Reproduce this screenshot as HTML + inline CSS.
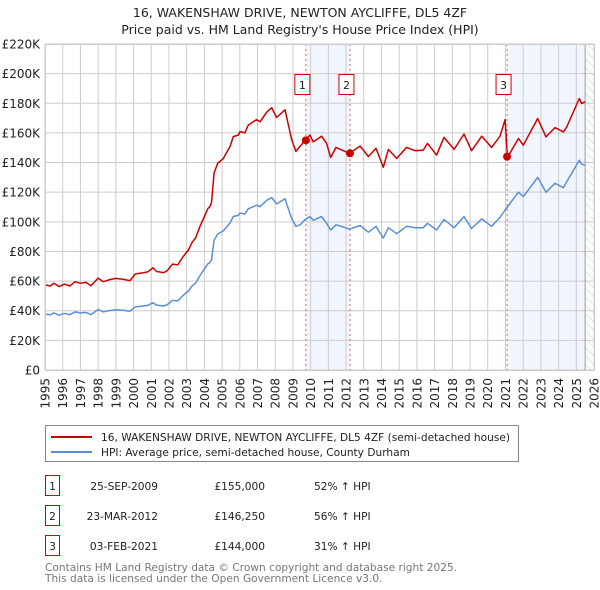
<!DOCTYPE html>
<html><head><meta charset="utf-8"><style>
body{margin:0;background:#fff;font-family:"Liberation Sans","DejaVu Sans",sans-serif;}
svg{display:block}
</style></head><body>
<svg id="chart" width="600" height="590" viewBox="0 0 600 590" font-family="DejaVu Sans, Liberation Sans, sans-serif">
<text x="300" y="17" text-anchor="middle" font-size="12.5" fill="#222">16, WAKENSHAW DRIVE, NEWTON AYCLIFFE, DL5 4ZF</text>
<text x="300" y="34" text-anchor="middle" font-size="12.5" fill="#222">Price paid vs. HM Land Registry's House Price Index (HPI)</text>
<g id="plot"></g>
<g>
<rect x="45.5" y="425.5" width="473" height="36" fill="#fff" stroke="#888"/>
<line x1="51" y1="437" x2="92" y2="437" stroke="#cc0000" stroke-width="2"/>
<text x="101" y="441" font-size="10.6" fill="#222">16, WAKENSHAW DRIVE, NEWTON AYCLIFFE, DL5 4ZF (semi-detached house)</text>
<line x1="51" y1="452" x2="92" y2="452" stroke="#5b8fd4" stroke-width="2"/>
<text x="101" y="456" font-size="10.6" fill="#222">HPI: Average price, semi-detached house, County Durham</text>
</g>
<g id="table" font-size="10.6" fill="#222"></g>
<text x="45" y="571" font-size="10.6" fill="#777">Contains HM Land Registry data © Crown copyright and database right 2025.</text>
<text x="45" y="582" font-size="10.6" fill="#777">This data is licensed under the Open Government Licence v3.0.</text>
</svg>
<script>
const yearTicks=[1995,1996,1997,1998,1999,2000,2001,2002,2003,2004,2005,2006,2007,2008,2009,2010,2011,2012,2013,2014,2015,2016,2017,2018,2019,2020,2021,2022,2023,2024,2025,2026];
const valueTicks=[0,20,40,60,80,100,120,140,160,180,200,220];
const valueTickLabels=["£0","£20K","£40K","£60K","£80K","£100K","£120K","£140K","£160K","£180K","£200K","£220K"];
const pointYears=[1995.0,1995.3,1995.5,1995.8,1996.1,1996.4,1996.7,1997.0,1997.3,1997.6,1998.0,1998.3,1998.6,1999.0,1999.4,1999.8,2000.1,2000.5,2000.8,2001.1,2001.3,2001.7,2001.9,2002.2,2002.5,2002.8,2003.1,2003.3,2003.5,2003.75,2004.0,2004.2,2004.3,2004.4,2004.55,2004.75,2005.07,2005.45,2005.63,2005.92,2006.01,2006.29,2006.48,2006.95,2007.14,2007.52,2007.8,2008.08,2008.55,2008.93,2009.17,2009.4,2009.68,2009.96,2010.15,2010.62,2010.9,2011.13,2011.43,2011.85,2012.19,2012.79,2013.26,2013.69,2014.1,2014.39,2014.86,2015.42,2015.89,2016.36,2016.6,2017.11,2017.53,2018.1,2018.66,2019.09,2019.66,2020.22,2020.69,2020.98,2021.11,2021.73,2022.01,2022.82,2023.29,2023.8,2024.27,2024.46,2025.17,2025.3,2025.49];
const propertyValues=[57.4,56.7,58.5,56.3,58,56.7,59.6,58.5,59.2,56.8,62,59.6,60.8,61.8,61.2,60.3,64.8,65.5,66.2,69,66.5,65.7,67,71.5,70.9,76.5,81,86,89,97,103.5,109,110,113,133,139.5,142.7,150.9,157.5,158.6,160.9,160,165.3,169,167.5,174,177,170.4,175.6,155.4,147.5,150.9,155,158.5,154,157.8,152.9,143.4,150.2,148,146.2,151.1,144,149.6,136.8,148.9,142.8,150.2,148,148.4,152.9,145,157,148.9,159.2,148,157.8,150.2,157.8,169,143.4,156.2,151.7,169.7,157.3,163.6,160.7,164,183.2,179.8,181];
const hpiValues=[37.8,37.3,38.5,37,38.2,37.3,39.2,38.5,38.9,37.4,40.8,39.2,40,40.7,40.3,39.7,42.6,43.1,43.6,45.4,43.8,43.2,44.1,47,46.6,50.3,53.3,56.6,58.6,63.8,68.1,71.7,72.4,74.3,87.5,91.8,93.9,99.3,103.6,104.3,105.9,105.3,108.8,111.2,110.2,114.5,116.4,112.1,115.5,102.2,97,98,101.5,103.5,101,103.5,99,94.5,98,96.5,95,97.5,93,97,89,96,92,97,96,96,99,94.5,101.5,96,103.5,95.5,102,97,103,108,110,120,117,130,120,126,123,127,141.5,139,138];
const saleLabels=["1","2","3"];
const saleYears=[2009.73,2012.22,2021.09];
const salePrices=[155,146.25,144];
const saleDates=["25-SEP-2009","23-MAR-2012","03-FEB-2021"];
const salePriceText=["£155,000","£146,250","£144,000"];
const saleHpiText=["52% ↑ HPI","56% ↑ HPI","31% ↑ HPI"];
const dataEndYear=2025.5;

const NS="http://www.w3.org/2000/svg";
const X0=45,X1=594,Y0=370,Y1=44;
const xs=y=>X0+(y-1995)*(X1-X0)/31;
const ys=v=>Y0-v*(Y0-Y1)/220;
const plot=document.getElementById('plot');
function mk(tag,attrs,parent){const e=document.createElementNS(NS,tag);for(const k in attrs)e.setAttribute(k,attrs[k]);(parent||plot).appendChild(e);return e;}

const s1=mk('rect',{x:xs(saleYears[0]),y:Y1,width:xs(saleYears[1])-xs(saleYears[0]),height:Y0-Y1,fill:'#eef3fc',opacity:0.8});


const s2=mk('rect',{x:xs(saleYears[2]),y:Y1,width:xs(dataEndYear)-xs(saleYears[2]),height:Y0-Y1,fill:'#eef3fc',opacity:0.8});


const defs=mk('defs',{});
const pat=mk('pattern',{id:'hatch',width:6,height:6,patternUnits:'userSpaceOnUse',patternTransform:'rotate(-45)'},defs);
mk('line',{x1:0,y1:0,x2:0,y2:6,stroke:'#ccc','stroke-width':1},pat);
const hz=mk('rect',{x:xs(dataEndYear),y:Y1,width:X1-xs(dataEndYear),height:Y0-Y1,fill:'url(#hatch)'});



yearTicks.forEach(yr=>{
  const x=xs(yr);
  const g=mk('line',{x1:x,y1:Y1,x2:x,y2:Y0,stroke:'#cccccc','stroke-width':1});
  
  
  const t=mk('text',{x:0,y:0,transform:`translate(${x+4.5},${Y0+8}) rotate(-90)`,'text-anchor':'end','font-size':12,fill:'#222'});
  t.textContent=yr;
  
  
});
valueTicks.forEach((v,i)=>{
  const y=ys(v);
  const g=mk('line',{x1:X0,y1:y,x2:X1,y2:y,stroke:'#cccccc','stroke-width':1});
  
  
  const t=mk('text',{x:X0-5,y:y+4.5,'text-anchor':'end','font-size':12,fill:'#222'});
  t.textContent=valueTickLabels[i];
  
  
});
const el=mk('line',{x1:xs(dataEndYear),y1:Y1,x2:xs(dataEndYear),y2:Y0,stroke:'#999','stroke-width':1});



saleYears.forEach(sy=>{
  const l=mk('line',{x1:xs(sy),y1:Y1,x2:xs(sy),y2:Y0,stroke:'#e06060','stroke-width':1,'stroke-dasharray':'2,3'});
  
  
});

function pathOf(vals){return pointYears.map((y,i)=>(i?'L':'M')+xs(y).toFixed(1)+','+ys(vals[i]).toFixed(1)).join('');}
const hp=mk('path',{d:pathOf(hpiValues),fill:'none',stroke:'#5b8fd4','stroke-width':1.5,'stroke-linejoin':'round'});


const pp=mk('path',{d:pathOf(propertyValues),fill:'none',stroke:'#cc0000','stroke-width':1.5,'stroke-linejoin':'round'});



saleYears.forEach((sy,i)=>{
  const c=mk('circle',{cx:xs(sy),cy:ys(salePrices[i]),r:4,fill:'#cc0000'});
  
  
  const bx=mk('rect',{x:xs(sy)-8-3,y:74.5,width:15,height:20,fill:'#fff',stroke:'#cc0000'});
  
  
  const t=mk('text',{x:xs(sy)-3.5,y:89,'text-anchor':'middle','font-size':11,fill:'#222'});
  t.textContent=saleLabels[i];
  
  
});
const bd=mk('rect',{x:X0+0.5,y:Y1+0.5,width:X1-X0,height:Y0-Y1,fill:'none',stroke:'#cccccc'});



const tb=document.getElementById('table');
const rowY=[486,516,546];
saleLabels.forEach((lb,i)=>{
  const y=rowY[i];
  const r=mk('rect',{x:45.5,y:y-10.5,width:14,height:20,fill:'#fff',stroke:'#cc0000'},tb);
  
  
  const t0=mk('text',{x:52.5,y:y+4,'text-anchor':'middle'},tb);t0.textContent=lb;
  
  
  const t1=mk('text',{x:158,y:y+4,'text-anchor':'end'},tb);t1.textContent=saleDates[i];
  
  
  const t2=mk('text',{x:265,y:y+4,'text-anchor':'end'},tb);t2.textContent=salePriceText[i];
  
  
  const t3=mk('text',{x:314,y:y+4},tb);t3.textContent=saleHpiText[i];
  
  
});
</script>
</body></html>
